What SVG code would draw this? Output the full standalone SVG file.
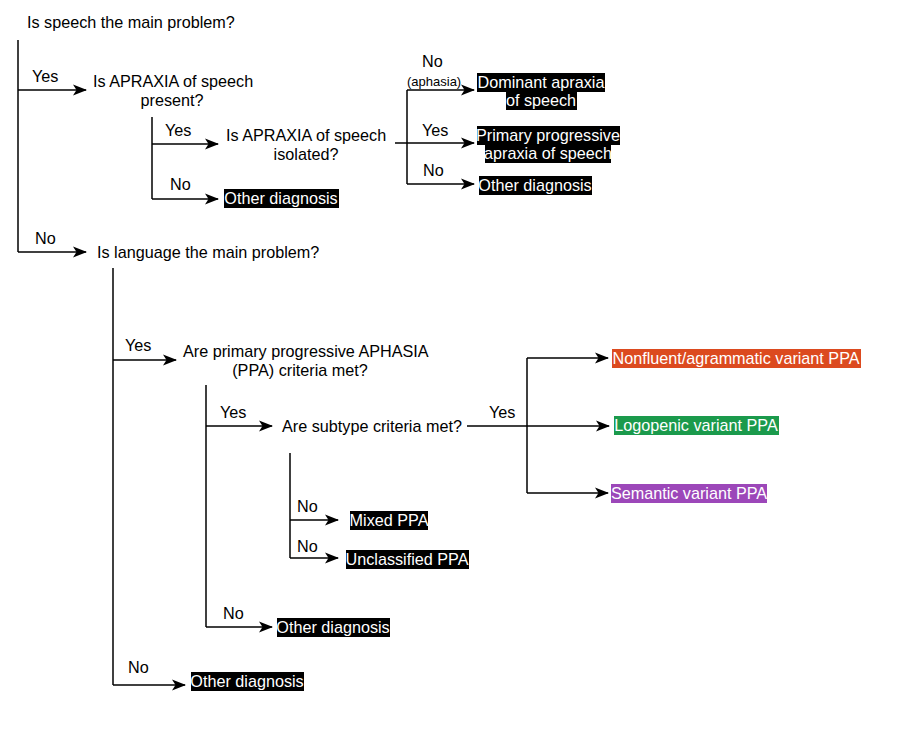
<svg xmlns="http://www.w3.org/2000/svg" width="903" height="734" viewBox="0 0 903 734">
<style>
text{font-family:"Liberation Sans",Arial,sans-serif;font-size:16.2px;fill:#000}
.w{fill:#fff}
.s{font-size:13px}
.c{text-anchor:middle}
.ln{stroke:#000;stroke-width:1.5;fill:none}
.ar{stroke:#000;stroke-width:1.5;fill:none;marker-end:url(#ah)}
.bk{fill:#000}
</style>
<defs>
<marker id="ah" markerWidth="16" markerHeight="12" refX="13" refY="6" orient="auto" markerUnits="userSpaceOnUse">
<path d="M0,0.5 L14,6 L0,11.5 L3.5,6 z" fill="#000"/>
</marker>
</defs>
<rect width="903" height="734" fill="#fff"/>
<g id="connectors">
<path class="ln" d="M18,40 V252"/>
<path class="ar" d="M18,90 H86"/>
<path class="ar" d="M18,252 H86"/>
<path class="ln" d="M152,117 V199"/>
<path class="ar" d="M152,144 H218"/>
<path class="ar" d="M152,199 H218"/>
<path class="ln" d="M407,90 V184"/>
<path class="ar" d="M407,90 H474"/>
<path class="ar" d="M395,143 H474"/>
<path class="ar" d="M407,184 H474"/>
<path class="ln" d="M113,268 V685"/>
<path class="ar" d="M113,360 H176"/>
<path class="ar" d="M113,685 H185"/>
<path class="ln" d="M206,385 V627"/>
<path class="ar" d="M206,426 H272"/>
<path class="ar" d="M206,627 H272"/>
<path class="ar" d="M467,426 H609"/>
<path class="ln" d="M527,358 V493"/>
<path class="ar" d="M527,358 H608"/>
<path class="ar" d="M527,493 H608"/>
<path class="ln" d="M290,453 V558"/>
<path class="ar" d="M290,520 H338"/>
<path class="ar" d="M290,558 H338"/>
</g>
<g id="labels">
<text x="32" y="82">Yes</text>
<text x="35" y="244">No</text>
<text x="165" y="136">Yes</text>
<text x="170" y="190">No</text>
<text x="422" y="67">No</text>
<text x="407" y="86" class="s">(aphasia)</text>
<text x="422" y="136">Yes</text>
<text x="423" y="176">No</text>
<text x="125" y="351">Yes</text>
<text x="220" y="418">Yes</text>
<text x="489" y="418">Yes</text>
<text x="297" y="512">No</text>
<text x="297" y="552">No</text>
<text x="223" y="619">No</text>
<text x="128" y="673">No</text>
</g>
<g id="q1"><text x="27" y="28">Is speech the main problem?</text></g>
<g id="q2"><text x="93" y="87">Is APRAXIA of speech</text><text x="172" y="106" class="c">present?</text></g>
<g id="q3"><text x="226" y="141">Is APRAXIA of speech</text><text x="306" y="160" class="c">isolated?</text></g>
<g id="q4"><text x="97" y="258">Is language the main problem?</text></g>
<g id="q5"><text x="183" y="357">Are primary progressive APHASIA</text><text x="300" y="376" class="c">(PPA) criteria met?</text></g>
<g id="q6"><text x="282" y="432">Are subtype criteria met?</text></g>
<g id="d1"><rect class="bk" x="477" y="73" width="128" height="19"/><rect class="bk" x="506" y="92" width="71" height="18"/><text x="541" y="88" class="w c">Dominant apraxia</text><text x="541" y="106" class="w c">of speech</text></g>
<g id="d2"><rect class="bk" x="477" y="126" width="143" height="19"/><rect class="bk" x="485" y="145" width="126" height="18"/><text x="548" y="141" class="w c">Primary progressive</text><text x="548" y="159" class="w c">apraxia of speech</text></g>
<g id="d3"><rect class="bk" x="479" y="176" width="113" height="19"/><text x="535" y="191" class="w c">Other diagnosis</text></g>
<g id="d4"><rect class="bk" x="224" y="189" width="115" height="19"/><text x="281" y="204" class="w c">Other diagnosis</text></g>
<g id="d5"><rect x="612" y="349" width="249" height="19" fill="#DC4A1F"/><text x="736" y="364" class="w c">Nonfluent/agrammatic variant PPA</text></g>
<g id="d6"><rect x="614" y="416" width="165" height="19" fill="#1B9A4C"/><text x="696" y="431" class="w c">Logopenic variant PPA</text></g>
<g id="d7"><rect x="611" y="484" width="156" height="19" fill="#9C47B9"/><text x="689" y="499" class="w c">Semantic variant PPA</text></g>
<g id="d8"><rect class="bk" x="350" y="511" width="78" height="19"/><text x="389" y="526" class="w c">Mixed PPA</text></g>
<g id="d9"><rect class="bk" x="346" y="550" width="123" height="19"/><text x="407" y="565" class="w c">Unclassified PPA</text></g>
<g id="d10"><rect class="bk" x="277" y="618" width="113" height="19"/><text x="333" y="633" class="w c">Other diagnosis</text></g>
<g id="d11"><rect class="bk" x="191" y="672" width="113" height="19"/><text x="247" y="687" class="w c">Other diagnosis</text></g>
</svg>
